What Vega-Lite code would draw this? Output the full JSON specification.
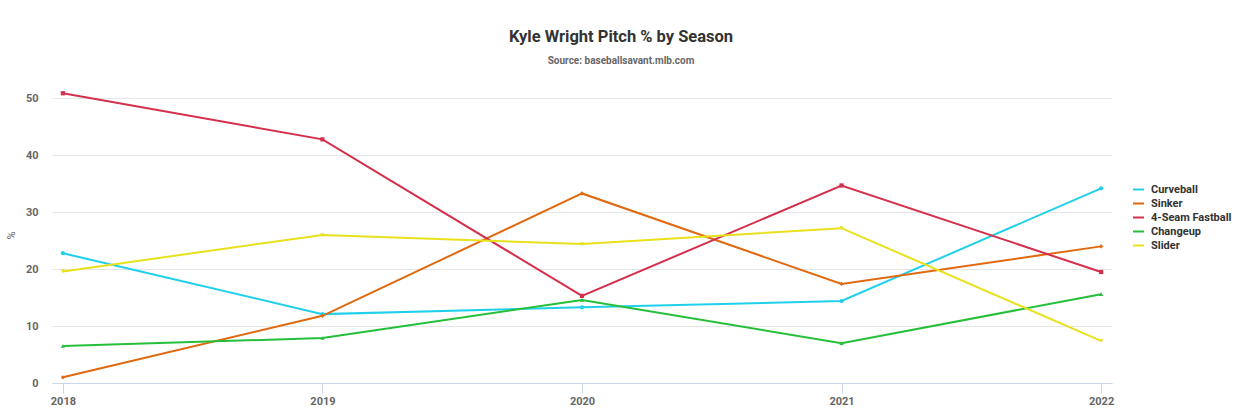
{
  "$schema": "https://vega.github.io/schema/vega-lite/v6.json",
  "autosize": "none",
  "width": 1060,
  "height": 296,
  "padding": {"left": 52, "top": 87, "right": 129, "bottom": 30},
  "background": "white",
  "title": {
    "text": "Kyle Wright Pitch % by Season",
    "subtitle": "Source: baseballsavant.mlb.com",
    "anchor": "middle",
    "dx": 39,
    "offset": 21,
    "font": "Roboto",
    "fontSize": 16.5,
    "fontWeight": "bold",
    "color": "#333333",
    "subtitleFont": "Roboto",
    "subtitleFontSize": 10,
    "subtitleFontWeight": "bold",
    "subtitleColor": "#666666",
    "subtitlePadding": 11
  },
  "config": {
    "view": {"stroke": null},
    "font": "Roboto"
  },
  "data": {
    "values": [
      {"season": 2018, "pitch": "Curveball", "pct": 22.8},
      {"season": 2019, "pitch": "Curveball", "pct": 12.1},
      {"season": 2020, "pitch": "Curveball", "pct": 13.3},
      {"season": 2021, "pitch": "Curveball", "pct": 14.4},
      {"season": 2022, "pitch": "Curveball", "pct": 34.2},
      {"season": 2018, "pitch": "Sinker", "pct": 1.0},
      {"season": 2019, "pitch": "Sinker", "pct": 11.8},
      {"season": 2020, "pitch": "Sinker", "pct": 33.3},
      {"season": 2021, "pitch": "Sinker", "pct": 17.4},
      {"season": 2022, "pitch": "Sinker", "pct": 24.0},
      {"season": 2018, "pitch": "4-Seam Fastball", "pct": 50.9},
      {"season": 2019, "pitch": "4-Seam Fastball", "pct": 42.8},
      {"season": 2020, "pitch": "4-Seam Fastball", "pct": 15.3},
      {"season": 2021, "pitch": "4-Seam Fastball", "pct": 34.7},
      {"season": 2022, "pitch": "4-Seam Fastball", "pct": 19.5},
      {"season": 2018, "pitch": "Changeup", "pct": 6.5},
      {"season": 2019, "pitch": "Changeup", "pct": 7.9},
      {"season": 2020, "pitch": "Changeup", "pct": 14.6},
      {"season": 2021, "pitch": "Changeup", "pct": 7.0},
      {"season": 2022, "pitch": "Changeup", "pct": 15.6},
      {"season": 2018, "pitch": "Slider", "pct": 19.6},
      {"season": 2019, "pitch": "Slider", "pct": 26.0},
      {"season": 2020, "pitch": "Slider", "pct": 24.4},
      {"season": 2021, "pitch": "Slider", "pct": 27.2},
      {"season": 2022, "pitch": "Slider", "pct": 7.4}
    ]
  },
  "encoding": {
    "x": {
      "field": "season",
      "type": "quantitative",
      "title": null,
      "scale": {"domain": [2017.958, 2022.042], "nice": false, "zero": false},
      "axis": {
        "values": [2018, 2019, 2020, 2021, 2022],
        "format": "d",
        "grid": false,
        "domainColor": "#ccd6eb",
        "tickColor": "#ccd6eb",
        "tickSize": 10,
        "labelPadding": 2,
        "labelColor": "#666666",
        "labelFontSize": 11,
        "labelFontWeight": "bold"
      }
    },
    "y": {
      "field": "pct",
      "type": "quantitative",
      "title": "%",
      "scale": {"domain": [0, 52], "nice": false},
      "axis": {
        "values": [0, 10, 20, 30, 40, 50],
        "domain": false,
        "ticks": false,
        "gridColor": "#e6e6e6",
        "labelPadding": 14,
        "labelColor": "#666666",
        "labelFontSize": 11,
        "labelFontWeight": "bold",
        "titleColor": "#666666",
        "titleFontSize": 11,
        "titleFontWeight": "normal",
        "titlePadding": 9
      }
    }
  },
  "resolve": {"legend": {"color": "independent", "shape": "independent"}},
  "layer": [
    {
      "mark": {"type": "line", "strokeWidth": 2},
      "encoding": {
        "color": {
          "field": "pitch",
          "type": "nominal",
          "sort": ["Curveball", "Sinker", "4-Seam Fastball", "Changeup", "Slider"],
          "scale": {
            "domain": ["Curveball", "Sinker", "4-Seam Fastball", "Changeup", "Slider"],
            "range": ["#20d0ea", "#e0690f", "#d42f4b", "#26bf3b", "#e8e11c"]
          },
          "legend": {
            "title": null,
            "orient": "none",
            "legendX": 1080,
            "legendY": 96,
            "symbolType": "stroke",
            "symbolStrokeWidth": 2,
            "symbolSize": 120,
            "labelFontSize": 11,
            "labelFontWeight": "bold",
            "labelColor": "#333333",
            "labelOffset": 6,
            "rowPadding": 2
          }
        }
      }
    },
    {
      "mark": {"type": "point", "filled": true, "opacity": 1, "size": 18},
      "encoding": {
        "color": {
          "field": "pitch",
          "type": "nominal",
          "legend": null
        },
        "shape": {
          "field": "pitch",
          "type": "nominal",
          "scale": {
            "domain": ["Curveball", "Sinker", "4-Seam Fastball", "Changeup", "Slider"],
            "range": ["circle", "diamond", "square", "triangle-up", "triangle-down"]
          },
          "legend": null
        }
      }
    }
  ]
}
